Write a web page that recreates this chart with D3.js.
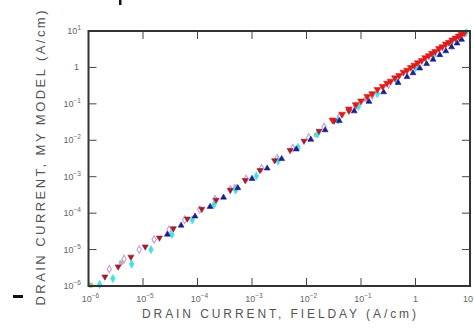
<!DOCTYPE html>
<html>
<head>
<meta charset="utf-8">
<script src="https://cdn.jsdelivr.net/npm/d3@7"></script>
<style>
  body { margin: 0; background: #fff; }
  svg { display: block; }
</style>
</head>
<body>
<div id="chart"></div>
<script>
// decades shown on both axes
const tickExps = [-6, -5, -4, -3, -2, -1, 0, 1];

// series (x = Fielday current, y = my model), A/cm
const darkRedX = [2.0e-6, 3.5e-6, 6e-6, 1.1e-5, 2e-5, 3.6e-5, 6.5e-5, 1.2e-4, 2.2e-4, 4e-4, 7.5e-4, 1.4e-3, 2.6e-3, 5e-3, 9e-3, 1.7e-2, 3.2e-2, 6e-2];
const darkRedY = [1.8e-6, 3.4e-6, 6.3e-6, 1.2e-5, 2.1e-5, 3.8e-5, 7e-5, 1.3e-4, 2.3e-4, 4.3e-4, 8e-4, 1.5e-3, 2.8e-3, 5.3e-3, 9.6e-3, 1.8e-2, 3.4e-2, 6.4e-2];

const navyX = [2.8e-5, 5e-5, 9e-5, 1.7e-4, 3e-4, 5.5e-4, 1e-3, 1.9e-3, 3.5e-3, 6.5e-3, 1.2e-2, 2.2e-2, 4e-2, 7.5e-2, 0.14, 0.26, 0.48, 0.7, 0.9, 1.2, 1.6, 2.1, 2.8, 3.6, 4.6, 5.8, 7];
const navyY = [2.6e-5, 4.6e-5, 8.2e-5, 1.5e-4, 2.7e-4, 4.9e-4, 8.8e-4, 1.7e-3, 3.1e-3, 5.7e-3, 1.05e-2, 1.9e-2, 3.4e-2, 6.3e-2, 0.115, 0.21, 0.38, 0.55, 0.7, 0.95, 1.25, 1.65, 2.2, 2.8, 3.6, 4.6, 5.8];

const cyanX = [1.6e-6, 2.8e-6, 6.2e-6, 1.4e-5, 3.4e-5, 8e-5, 2e-4, 5e-4, 1.2e-3, 3e-3, 7e-3, 1.6e-2, 3.8e-2, 9e-2, 0.2, 0.45, 1.0, 2.2, 4.5, 8.5];
const cyanY = [1.1e-6, 1.6e-6, 4e-6, 1e-5, 2.6e-5, 6.5e-5, 1.7e-4, 4.3e-4, 1.05e-3, 2.7e-3, 6.4e-3, 1.5e-2, 3.6e-2, 8.6e-2, 0.19, 0.43, 0.97, 2.2, 4.6, 9];

const lavenderX = [2.4e-6, 4.5e-6, 8.5e-6, 1.6e-5, 3e-5, 5.8e-5, 1.1e-4, 2.1e-4, 4e-4, 7.8e-4, 1.5e-3, 2.9e-3, 5.6e-3, 1.1e-2, 2.1e-2, 0.04, 0.08, 0.16, 0.32];
const lavenderY = [2.9e-6, 5.5e-6, 1e-5, 1.9e-5, 3.5e-5, 6.6e-5, 1.25e-4, 2.4e-4, 4.5e-4, 8.7e-4, 1.7e-3, 3.2e-3, 6.1e-3, 1.2e-2, 2.3e-2, 0.044, 0.087, 0.17, 0.34];

const redX = [0.03, 0.045, 0.06, 0.08, 0.1, 0.13, 0.16, 0.2, 0.25, 0.3, 0.35, 0.42, 0.5, 0.6, 0.7, 0.82, 0.95, 1.1, 1.3, 1.5, 1.75, 2.0, 2.3, 2.7, 3.1, 3.6, 4.1, 4.7, 5.4, 6.2, 7.0, 7.8];
const redY = [0.036, 0.052, 0.072, 0.095, 0.12, 0.16, 0.19, 0.25, 0.3, 0.37, 0.42, 0.52, 0.6, 0.74, 0.84, 1.0, 1.15, 1.35, 1.55, 1.85, 2.1, 2.45, 2.75, 3.3, 3.7, 4.4, 4.9, 5.7, 6.4, 7.3, 8.1, 8.8];

const grayX = [4e-6, 5e-4, 1.5e-2, 0.12];
const grayY = [4.4e-6, 5.3e-4, 1.4e-2, 0.13];

const greenX = [1.1e-6];
const greenY = [1.05e-6];

const width = 474, height = 328;
const margin = { left: 88.5, right: 4, top: 31, bottom: 42 };

const svg = d3.select('#chart')
  .append('svg')
  .attr('width', width)
  .attr('height', height);

const x = d3.scaleLog().domain([1e-6, 10]).range([margin.left, width - margin.right]);
const y = d3.scaleLog().domain([1e-6, 10]).range([height - margin.bottom, margin.top]);

const series = [
  { xs: lavenderX, ys: lavenderY, color: '#c9a3d6', shape: d3.symbolDiamond, size: 16, open: true },
  { xs: grayX, ys: grayY, color: '#b5b5b5', shape: d3.symbolCircle, size: 18 },
  { xs: cyanX, ys: cyanY, color: '#46e0e6', shape: d3.symbolDiamond, size: 20 },
  { xs: greenX, ys: greenY, color: '#8fcf8f', shape: d3.symbolCircle, size: 20 },
  { xs: darkRedX, ys: darkRedY, color: '#9e1f2e', shape: d3.symbolTriangle, size: 16, rot: 180 },
  { xs: navyX, ys: navyY, color: '#1b1f8c', shape: d3.symbolTriangle, size: 15 },
  { xs: redX, ys: redY, color: '#dd1c1c', shape: d3.symbolTriangle, size: 20, rot: 180 }
];

const plot = svg.append('g');

series.forEach(s => {
  const pts = s.xs.map((v, i) => [v, s.ys[i]]);
  plot.selectAll(null)
    .data(pts)
    .enter()
    .append('path')
    .attr('d', d3.symbol().type(s.shape).size(s.size))
    .attr('transform', d => `translate(${x(d[0])},${y(d[1])}) rotate(${s.rot || 0})`)
    .attr('fill', s.open ? 'none' : s.color)
    .attr('stroke', s.color)
    .attr('stroke-width', s.open ? 1.2 : 0.6);
});

// frame
svg.append('rect')
  .attr('x', x(1e-6))
  .attr('y', y(10))
  .attr('width', x(10) - x(1e-6))
  .attr('height', y(1e-6) - y(10))
  .attr('fill', 'none')
  .attr('stroke', '#333')
  .attr('stroke-width', 2);

// inward ticks on all four sides
const tickLen = 8;
const inner = tickExps.slice(1, -1).map(e => Math.pow(10, e));
svg.selectAll('.tx')
  .data(inner)
  .enter()
  .append('path')
  .attr('d', d => `M${x(d)},${y(1e-6)}v${-tickLen}M${x(d)},${y(10)}v${tickLen}`)
  .attr('stroke', '#444')
  .attr('stroke-width', 1);
svg.selectAll('.ty')
  .data(inner)
  .enter()
  .append('path')
  .attr('d', d => `M${x(1e-6)},${y(d)}h${tickLen}M${x(10)},${y(d)}h${-tickLen}`)
  .attr('stroke', '#444')
  .attr('stroke-width', 1);

// tick labels with superscript exponents
const labelColor = '#666';
function tickLabel(sel, e) {
  if (e === 0) { sel.text('1'); return; }
  sel.append('tspan').text('10');
  sel.append('tspan')
    .attr('dy', -4)
    .attr('font-size', 6.5)
    .text(e === 1 ? '1' : '\u2212' + (-e));
}

svg.selectAll('.ly')
  .data(tickExps)
  .enter()
  .append('text')
  .attr('x', d => d === 0 ? 79 : 81)
  .attr('y', d => y(Math.pow(10, d)) + 3)
  .attr('text-anchor', 'end')
  .attr('font-family', 'Liberation Sans, Arial, sans-serif')
  .attr('font-size', 9)
  .attr('fill', labelColor)
  .each(function (d) { tickLabel(d3.select(this), d); });

svg.selectAll('.lx')
  .data(tickExps)
  .enter()
  .append('text')
  .attr('x', d => d === 1 ? 473 : x(Math.pow(10, d)) + (d === 0 ? 0 : 2))
  .attr('y', 302)
  .attr('text-anchor', d => d === 1 ? 'end' : 'middle')
  .attr('font-family', 'Liberation Sans, Arial, sans-serif')
  .attr('font-size', 9)
  .attr('fill', labelColor)
  .each(function (d) {
    if (d === 1) d3.select(this).text('10');
    else tickLabel(d3.select(this), d);
  });

// axis titles
svg.append('text')
  .attr('x', 279)
  .attr('y', 318)
  .attr('text-anchor', 'middle')
  .attr('font-family', 'Liberation Sans, Arial, sans-serif')
  .attr('font-size', 12)
  .attr('fill', '#555')
  .attr('textLength', 274)
  .attr('lengthAdjust', 'spacing')
  .text('DRAIN CURRENT, FIELDAY (A/cm)');

svg.append('text')
  .attr('transform', 'translate(45,158) rotate(-90)')
  .attr('text-anchor', 'middle')
  .attr('font-family', 'Liberation Sans, Arial, sans-serif')
  .attr('font-size', 13)
  .attr('fill', '#555')
  .attr('textLength', 295)
  .attr('lengthAdjust', 'spacing')
  .text('DRAIN CURRENT, MY MODEL (A/cm)');

// stray scan marks in the original
svg.append('rect').attr('x', 13).attr('y', 295).attr('width', 10).attr('height', 3).attr('fill', '#111');
svg.append('rect').attr('x', 119).attr('y', 0).attr('width', 2.5).attr('height', 5).attr('fill', '#111');
</script>
</body>
</html>
